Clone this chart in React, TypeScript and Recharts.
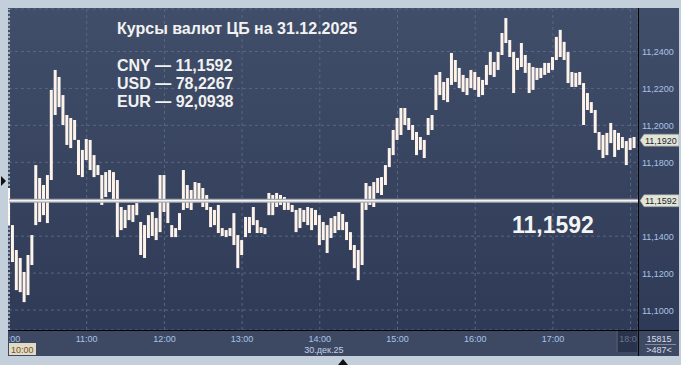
import { Bar, BarChart, CartesianGrid, ReferenceLine, XAxis, YAxis } from "recharts";

const title = "Курсы валют ЦБ на 31.12.2025";
const rateCodes = ["CNY", "USD", "EUR"];
const rateValues = ["11,1592", "78,2267", "92,0938"];
const cbRate = 11.1592;
const lastPrice = 11.192;
const dateLabel = "30.дек.25";
const volumeText = "15815";
const counterText = ">487<";

const sessionStartHour = 10;
const barMinutes = 3;
const hourTicks = [0, 60, 120, 180, 240, 300, 360, 420, 480];
const priceTicks = [11.1, 11.12, 11.14, 11.18, 11.2, 11.22, 11.24];

// 3-minute high/low bars
const high = [
  11.1661, 11.146, 11.1325, 11.1282, 11.1206, 11.1298, 11.1406, 11.1785, 11.1715, 11.1677,
  11.1731, 11.2192, 11.23, 11.2262, 11.2164, 11.2056, 11.204, 11.2029, 11.1921, 11.1867,
  11.1926, 11.1921, 11.1839, 11.1785, 11.1731, 11.1747, 11.1758, 11.1747, 11.1704, 11.1558,
  11.1542, 11.1569, 11.1569, 11.1579, 11.1477, 11.146, 11.1514, 11.1531, 11.1498, 11.1731,
  11.1731, 11.1596, 11.146, 11.1444, 11.1525, 11.1758, 11.1677, 11.165, 11.1693, 11.1688,
  11.1661, 11.1623, 11.1558, 11.1542, 11.1569, 11.1444, 11.1433, 11.1444, 11.1525, 11.1406,
  11.1379, 11.1504, 11.1504, 11.1558, 11.1487, 11.1449, 11.1444, 11.1634, 11.1623, 11.1634,
  11.1623, 11.1612, 11.1596, 11.1569, 11.1542, 11.1552, 11.1542, 11.1558, 11.1552, 11.1542,
  11.1514, 11.1477, 11.146, 11.1498, 11.1509, 11.1531, 11.152, 11.1477, 11.1422, 11.1352,
  11.1325, 11.1596, 11.1688, 11.1671, 11.1693, 11.1715, 11.172, 11.1785, 11.1877, 11.1975,
  11.204, 11.2094, 11.2094, 11.204, 11.2002, 11.1964, 11.1937, 11.1921, 11.204, 11.2056,
  11.2273, 11.2289, 11.2235, 11.2256, 11.2392, 11.2354, 11.2311, 11.2273, 11.2256, 11.23,
  11.2289, 11.2262, 11.2246, 11.2327, 11.2397, 11.2343, 11.2397, 11.25, 11.2581, 11.2462,
  11.2397, 11.2365, 11.2446, 11.2381, 11.2338, 11.2316, 11.2311, 11.2311, 11.2338, 11.2338,
  11.237, 11.2479, 11.2517, 11.2452, 11.2397, 11.2289, 11.2284, 11.2289, 11.2229, 11.2175,
  11.2126, 11.2083, 11.1964, 11.1948, 11.1959, 11.2013, 11.1975, 11.1959, 11.1937, 11.1915,
  11.1931, 11.1937,
];
const low = [
  11.146, 11.126, 11.1108, 11.1097, 11.1043, 11.1081, 11.1244, 11.146, 11.1477, 11.1514,
  11.1471, 11.1704, 11.2056, 11.2099, 11.2002, 11.1894, 11.1877, 11.1921, 11.1731, 11.172,
  11.1812, 11.1758, 11.172, 11.1731, 11.1569, 11.1612, 11.1639, 11.1596, 11.1395, 11.1433,
  11.1444, 11.1487, 11.1477, 11.1514, 11.1298, 11.1282, 11.139, 11.1401, 11.1379, 11.1422,
  11.1531, 11.1471, 11.1395, 11.1395, 11.1433, 11.1542, 11.1552, 11.1542, 11.1596, 11.1596,
  11.1558, 11.1542, 11.1449, 11.146, 11.1417, 11.1401, 11.1395, 11.1401, 11.1352, 11.1227,
  11.1298, 11.1395, 11.1417, 11.146, 11.1417, 11.1417, 11.1411, 11.1514, 11.1514, 11.1558,
  11.1569, 11.1542, 11.1542, 11.1531, 11.1422, 11.1444, 11.1477, 11.146, 11.1433, 11.146,
  11.1352, 11.1379, 11.1309, 11.139, 11.1417, 11.1433, 11.1433, 11.1379, 11.1325, 11.1227,
  11.1162, 11.1244, 11.1542, 11.1569, 11.1558, 11.1634, 11.1623, 11.1677, 11.1774, 11.1839,
  11.1921, 11.1948, 11.2002, 11.1975, 11.1921, 11.1839, 11.1867, 11.1823, 11.1948, 11.1975,
  11.2083, 11.2164, 11.2137, 11.2126, 11.2219, 11.2235, 11.2202, 11.2181, 11.2164, 11.2202,
  11.2192, 11.2154, 11.2164, 11.2219, 11.2273, 11.2262, 11.23, 11.2381, 11.2446, 11.237,
  11.2175, 11.23, 11.2316, 11.2284, 11.2175, 11.2192, 11.2246, 11.2256, 11.2273, 11.2284,
  11.23, 11.2354, 11.237, 11.2354, 11.2229, 11.2208, 11.2208, 11.2219, 11.2002, 11.2083,
  11.2067, 11.1959, 11.1867, 11.1823, 11.1839, 11.1904, 11.1829, 11.1867, 11.1877, 11.1785,
  11.1867, 11.1877,
];

const data = high.map((h, i) => ({ t: i * barMinutes, range: [low[i], h] }));

const FONT = "'Liberation Sans', Arial, sans-serif";
const tickColor = "#a9c3e6";

const fmtPrice = (v: number) => v.toFixed(4).replace(".", ",");
const fmtHour = (m: number) => `${sessionStartHour + m / 60}:00`;

function TimeTick(props: any) {
  const { x, y, payload } = props;
  const v = payload.value as number;
  const label = fmtHour(v);
  if (v === hourTicks[0]) {
    return (
      <g fontFamily={FONT} fontSize={9}>
        <clipPath id="first-tick-clip">
          <rect x={x} y={y} width={30} height={14} />
        </clipPath>
        <text x={x} y={y + 12} textAnchor="middle" fill={tickColor} clipPath="url(#first-tick-clip)">
          {label}
        </text>
        <rect x={x} y={y + 13} width={27} height={12} fill="#dedcc6" />
        <text x={x + 2} y={y + 23} fill="#7d5018">
          {label}
        </text>
      </g>
    );
  }
  if (v === hourTicks[hourTicks.length - 1]) {
    return (
      <g fontFamily={FONT} fontSize={9}>
        <clipPath id="last-tick-clip">
          <rect x={x - 13.5} y={y} width={20} height={22} />
        </clipPath>
        <rect x={x - 13.5} y={y} width={20} height={22} fill="#29334c" />
        <line x1={x - 13.5} x2={x - 13.5} y1={y} y2={y + 22} stroke="#56627a" />
        <text x={x} y={y + 12} textAnchor="middle" fill="#66758e" clipPath="url(#last-tick-clip)">
          {label}
        </text>
      </g>
    );
  }
  return (
    <g fontFamily={FONT} fontSize={9}>
      <text x={x} y={y + 12} textAnchor="middle" fill={tickColor}>
        {label}
      </text>
      {v === 240 && (
        <text x={x + 4} y={y + 23} textAnchor="middle" fill="#c3d2e8">
          {dateLabel}
        </text>
      )}
    </g>
  );
}

function PriceTick(props: any) {
  const { x, y, payload } = props;
  return (
    <text x={x} y={y} dy={3.5} fill={tickColor} fontSize={9} fontFamily={FONT} textAnchor="start">
      {fmtPrice(payload.value)}
    </text>
  );
}

function PriceTag({ viewBox, value }: any) {
  const x = viewBox.x + viewBox.width + 2;
  const y = viewBox.y;
  return (
    <g>
      <polygon
        points={`${x},${y} ${x + 4},${y - 6} ${x + 39},${y - 6} ${x + 39},${y + 6} ${x + 4},${y + 6}`}
        fill="#e2e5d3"
        stroke="#8d96a4"
        strokeWidth={0.6}
      />
      <text x={x + 5} y={y + 3.5} fontSize={9} fontFamily={FONT} fill="#1b2436">
        {fmtPrice(value)}
      </text>
    </g>
  );
}

export default function App() {
  return (
    <div
      style={{
        position: "absolute",
        left: 0,
        top: 0,
        width: 681,
        height: 365,
        background: "#c4cfdc",
        overflow: "hidden",
        fontFamily: FONT,
      }}
    >
      <div
        style={{
          position: "absolute",
          left: 8,
          top: 8,
          width: 671,
          height: 348,
          background:
            "linear-gradient(to bottom, #414e6a 0px, #2e3a56 322px, #3d4963 322px, #3d4963 348px)",
        }}
      >
        <BarChart
          width={671}
          height={348}
          data={data}
          margin={{ top: 1, right: 0, left: 1, bottom: 0 }}
          barCategoryGap={0}
        >
          <CartesianGrid stroke="#5a6782" strokeDasharray="3 3" />
          <XAxis
            dataKey="t"
            type="number"
            domain={[0, 485.7]}
            ticks={hourTicks}
            interval={0}
            height={26}
            axisLine={false}
            tickLine={false}
            tickSize={0}
            tickMargin={0}
            tick={<TimeTick />}
          />
          <YAxis
            orientation="right"
            type="number"
            domain={[11.0892, 11.263]}
            ticks={priceTicks}
            interval={0}
            width={41}
            axisLine={false}
            tickLine={false}
            tickSize={0}
            tickMargin={4}
            tick={<PriceTick />}
          />
          <ReferenceLine x={0} stroke="#ffffff" strokeDasharray="2 2" />
          <Bar dataKey="range" fill="#fdf3ea" barSize={3} isAnimationActive={false} />
          <ReferenceLine y={cbRate} stroke="#a9abb2" strokeWidth={4} />
          <ReferenceLine
            y={cbRate}
            stroke="#f4f4f4"
            strokeWidth={1.5}
            label={(p: any) => <PriceTag viewBox={p.viewBox} value={cbRate} />}
          />
          <ReferenceLine
            y={lastPrice}
            stroke="none"
            label={(p: any) => <PriceTag viewBox={p.viewBox} value={lastPrice} />}
          />
        </BarChart>
      </div>

      {/* frame lines */}
      <div style={{ position: "absolute", left: 638, top: 8, width: 1, height: 348, background: "#050505" }} />
      <div style={{ position: "absolute", left: 8, top: 330, width: 671, height: 1, background: "#050505" }} />

      <svg
        width={681}
        height={365}
        style={{ position: "absolute", left: 0, top: 0, pointerEvents: "none" }}
        fontFamily={FONT}
      >
        <text x={117} y={34} fontSize={16} fontWeight="bold" fill="#f2f2f2">
          {title}
        </text>
        {rateCodes.map((code, i) => (
          <text key={code} x={117} y={71 + i * 18} fontSize={16} fontWeight="bold" fill="#f2f2f2">
            {`${code} — ${rateValues[i]}`}
          </text>
        ))}
        <text x={512} y={233} fontSize={23} fontWeight="bold" fill="#f4f4f4">
          {fmtPrice(cbRate)}
        </text>

        <text x={659} y={342} fontSize={9} textAnchor="middle" fill="#d6dce8">
          {volumeText}
        </text>
        <line x1={645} x2={676} y1={344.5} y2={344.5} stroke="#7d8aa2" />
        <text x={659} y={353} fontSize={9} textAnchor="middle" fill="#d6dce8">
          {counterText}
        </text>

        <polygon points="1,176 6,181 1,186" fill="#111111" />
        <polygon points="338,365 343,359 348,365" fill="#111111" />
      </svg>
    </div>
  );
}
